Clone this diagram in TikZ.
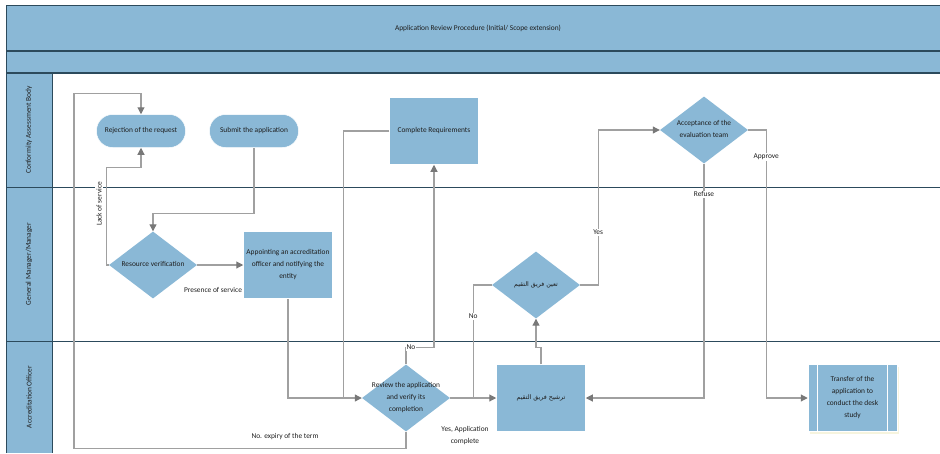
\documentclass[tikz,border=0pt]{standalone}
\usepackage{fontspec}
\setmainfont{Carlito}
\newfontfamily\arabicfont[Script=Arabic]{DejaVu Sans}
\TeXXeTstate=1
\usetikzlibrary{shapes.geometric,arrows.meta,calc,shadows}
\definecolor{laneblue}{RGB}{138,184,214}
\definecolor{lanedark}{RGB}{44,74,92}
\definecolor{flowgray}{RGB}{160,160,160}
\definecolor{tipgray}{RGB}{120,120,120}
\definecolor{inktext}{RGB}{30,30,30}
\definecolor{shadowtint}{RGB}{246,244,222}
\newcommand{\dtext}[1]{\raisebox{-0.2em}{\makebox[0pt]{\smash{\begin{tabular}{@{}c@{}}#1\end{tabular}}}}}
\tikzset{
  every node/.style={font=\fontsize{7.4}{12}\selectfont, text=inktext},
  pill/.style={rectangle, rounded corners=16pt, fill=laneblue, draw=white, line width=0.5pt,
    minimum width=89pt, minimum height=33pt, inner sep=0pt},
  taskbox/.style={rectangle, fill=laneblue, draw=white, line width=0.5pt,
    minimum width=89pt, minimum height=67pt, align=center, inner sep=1pt},
  decision/.style={diamond, fill=laneblue, minimum width=88pt, minimum height=67pt, inner sep=0pt},
  flow/.style={draw=flowgray, line width=1.1pt, -{Triangle[length=7pt,width=7pt,color=tipgray]}},
  link/.style={draw=flowgray, line width=1.1pt},
  lbl/.style={fill=white, inner sep=1pt},
  lanetitle/.style={rotate=90},
  arabic/.style={font=\arabicfont\fontsize{6.3}{12}\selectfont},
}

\begin{document}
\begin{tikzpicture}[x=1pt,y=-1pt]
			%%%%% LANES %%%%%
			\useasboundingbox (0,0) rectangle (940,453);
			
			\fill[laneblue] (6,5) rectangle (940,73);
			\fill[laneblue] (6,73) rectangle (52,453);
			\draw[lanedark, line width=1pt] (6,5) -- (940,5);
			\draw[lanedark, line width=2pt] (6,51) -- (940,51);
			\draw[lanedark, line width=1.2pt] (6,73) -- (940,73);
			\draw[lanedark, line width=1pt] (6,5) -- (6,453);
			\draw[lanedark, line width=1pt] (52,73) -- (52,453);
			\draw[lanedark, line width=1pt] (6,187) -- (940,187);
			\draw[lanedark, line width=1pt] (6,341) -- (940,341);
			
			\node (ttl) at (478,28) {Application Review Procedure (Initial/ Scope extension)};
			\node[lanetitle] (lcab) at (29,130) {Conformity Assessment Body};
			\node[lanetitle] (lgm) at (29,264) {General Manager/Manager};
			\node[lanetitle] (lao) at (29,397) {Accreditation Officer};
			
			%%%%% NODES %%%%%
			\node[pill] (rej) at (141,131) {Rejection of the request};
			\node[pill] (sub) at (254,131) {Submit the application};
			\node[taskbox] (creq) at (434,131) {Complete Requirements};
			\node[decision] (acc) at (704,130) {\dtext{Acceptance of the\\evaluation team}};
			
			\node[decision] (res) at (153,265) {\dtext{Resource verification}};
			\node[taskbox] (apt) at (288,265) {Appointing an accreditation\\officer and notifying the\\entity};
			\node[decision] (tay) at (536,285) {\dtext{\arabicfont\fontsize{6.3}{12}\selectfont\beginR تعين فريق التقيم\endR}};
			
			\node[decision] (rev) at (406,398) {\dtext{Review the application\\and verify its\\completion}};
			\node[taskbox, arabic] (tr) at (541,398) {\beginR ترشيح فريق التقيم\endR};
			\node[taskbox, drop shadow={shadow xshift=2pt, shadow yshift=-2pt, fill=shadowtint, opacity=1}] (tra) at (852.5,398) {Transfer of the\\application to\\conduct the desk\\study};
			\draw[white, line width=0.6pt] ($(tra.north west)+(10,0)$) -- ($(tra.south west)+(10,0)$);
			\draw[white, line width=0.6pt] ($(tra.north east)+(-10,0)$) -- ($(tra.south east)+(-10,0)$);
			
			%%%%% CONNECTORS %%%%%
			\draw[flow] (sub.south) -- ++(0,65.5) -| (res.north);
			\draw[flow] (res.west) -- ++(-2,0) |- ($(rej.south)+(0,20)$) -- (rej.south);
			\node[lbl, lanetitle] (llack) at (99,204) {Lack of service};
			
			\draw[flow] (res.east) -- (apt.west);
			\node (lpres) at (213,290) {Presence of service};
			
			\draw[flow] (apt.south) |- (rev.west);
			\draw[link] (creq.west) -| ($(rev.west)+(-18,0)$);
			\draw[flow] (rev.north) -- ++(0,-17) node[lbl, xshift=5pt] (lno1) {No} -| (creq.south);
			
			\draw[flow] (rev.south) -- ++(0,17) -| ($(rej.north)+(-67,-21)$) -| (rej.north);
			\node (lexp) at (285,437) {No. expiry of the term};
			
			\draw[flow] (rev.east) -- (tr.west);
			\node[align=center] (lyes1) at (465,436) {Yes, Application\\complete};
			\draw[link] (tay.west) -| node[lbl, pos=0.64] (lno2) {No} ($(rev.east)!0.5!(tr.west)$);
			
			\draw[flow] (tr.north) -- ++(0,-17) -| (tay.south);
			\draw[flow] (tay.east) -- ++(18,0) |- node[lbl, pos=0.17] (lyes2) {Yes} (acc.west);
			\draw[flow] (acc.south) |- node[lbl, pos=0.065] (lref) {Refuse} (tr.east);
			\draw[flow] (acc.east) -- ++(18,0) |- node[lbl, pos=0.05] (lapp) {Approve} (tra.west);
			
			%%%%% END %%%%%
\end{tikzpicture}
\end{document}
